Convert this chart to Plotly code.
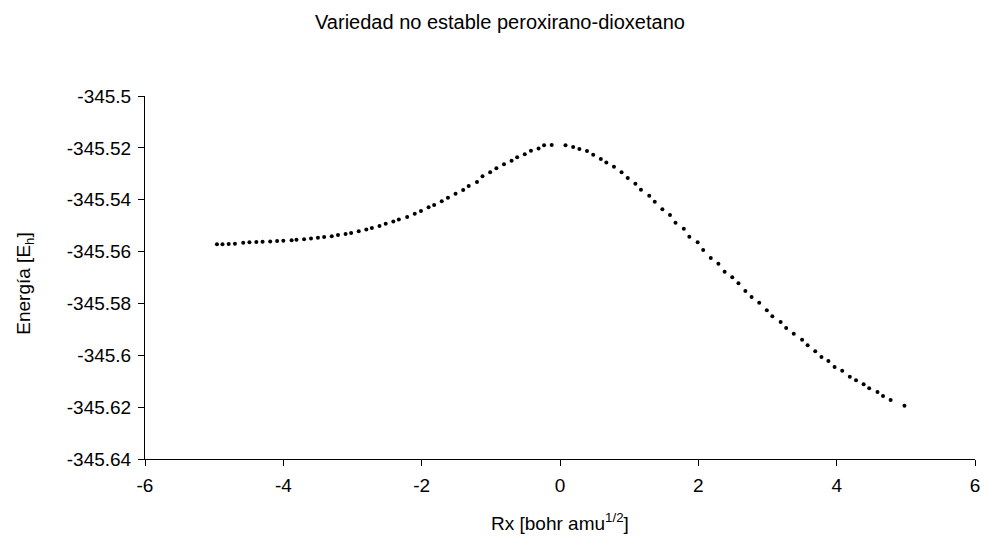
import plotly.graph_objects as go

# Reaction coordinate (bohr amu^1/2)
rx = [-4.96, -4.88, -4.79, -4.70, -4.58, -4.49, -4.39, -4.30, -4.19, -4.09,
      -4.00, -3.88, -3.81, -3.70, -3.60, -3.50, -3.41, -3.30, -3.21, -3.10,
      -3.02, -2.91, -2.80, -2.72, -2.61, -2.52, -2.41, -2.33, -2.21, -2.10,
      -2.01, -1.90, -1.82, -1.71, -1.62, -1.51, -1.40, -1.32, -1.20, -1.12,
      -1.01, -0.92, -0.81, -0.70, -0.62, -0.51, -0.42, -0.31, -0.23, -0.12,
      0.08, 0.19, 0.28, 0.39, 0.48, 0.59, 0.67, 0.78, 0.89, 0.98,
      1.09, 1.17, 1.29, 1.37, 1.48, 1.59, 1.67, 1.79, 1.87, 1.99,
      2.07, 2.18, 2.29, 2.38, 2.49, 2.58, 2.68, 2.77, 2.88, 2.99,
      3.07, 3.19, 3.27, 3.38, 3.50, 3.58, 3.69, 3.78, 3.88, 3.97,
      4.08, 4.19, 4.28, 4.39, 4.47, 4.59, 4.67, 4.78, 4.98]

# Energy (Hartree)
energy = [-345.55720, -345.55718, -345.55712, -345.55700, -345.55660, -345.55645, -345.55635, -345.55625, -345.55610, -345.55595,
          -345.55580, -345.55560, -345.55545, -345.55525, -345.55495, -345.55470, -345.55440, -345.55405, -345.55365, -345.55320,
          -345.55280, -345.55215, -345.55150, -345.55090, -345.55010, -345.54930, -345.54840, -345.54765, -345.54670, -345.54540,
          -345.54435, -345.54293, -345.54200, -345.54060, -345.53922, -345.53768, -345.53625, -345.53471, -345.53317, -345.53097,
          -345.52943, -345.52788, -345.52634, -345.52495, -345.52360, -345.52250, -345.52110, -345.52020, -345.51900, -345.51890,
          -345.51895, -345.51967, -345.52044, -345.52120, -345.52264, -345.52430, -345.52565, -345.52730, -345.52943, -345.53163,
          -345.53386, -345.53614, -345.53845, -345.54077, -345.54370, -345.54590, -345.54887, -345.55118, -345.55426, -345.55642,
          -345.55939, -345.56248, -345.56468, -345.56776, -345.56992, -345.57224, -345.57521, -345.57752, -345.57972, -345.58265,
          -345.58496, -345.58716, -345.58948, -345.59168, -345.59399, -345.59615, -345.59846, -345.60066, -345.60220, -345.60452,
          -345.60595, -345.60826, -345.60965, -345.61119, -345.61273, -345.61416, -345.61570, -345.61725, -345.61944]

x_tickvals = [-6, -4, -2, 0, 2, 4, 6]
x_ticktext = ["-6", "-4", "-2", "0", "2", "4", "6"]
y_tickvals = [-345.5, -345.52, -345.54, -345.56, -345.58, -345.6, -345.62, -345.64]
y_ticktext = ["-345.5", "-345.52", "-345.54", "-345.56", "-345.58", "-345.6", "-345.62", "-345.64"]

title_text = "Variedad no estable peroxirano-dioxetano"
x_title = "Rx [bohr amu<sup>1/2</sup>]"
y_title = "Energía [E<sub>h</sub>]"

FONT = "Liberation Sans, Arial, sans-serif"
W, H = 987, 542
ML, MR, MT, MB = 145, 7, 96, 83

fig = go.Figure()
fig.add_trace(go.Scatter(
    x=rx, y=energy, mode="markers",
    marker=dict(color="black", size=4, line=dict(width=0)),
    showlegend=False, hoverinfo="x+y",
))

axis_common = dict(
    showgrid=False, zeroline=False, showline=True, linecolor="black", linewidth=1,
    ticks="outside", ticklen=6, tickwidth=1, tickcolor="black",
    tickfont=dict(family=FONT, size=19, color="black"),
)

fig.update_layout(
    width=W, height=H,
    margin=dict(l=ML, r=MR, t=MT, b=MB, pad=0),
    paper_bgcolor="white", plot_bgcolor="white",
    font=dict(family=FONT, color="black"),
    xaxis=dict(range=[-6, 6], tickvals=x_tickvals, ticktext=x_ticktext,
               ticklabelstandoff=3, **axis_common),
    yaxis=dict(range=[-345.64, -345.5], tickvals=y_tickvals, ticktext=y_ticktext,
               ticklabelstandoff=3, **axis_common),
    annotations=[
        dict(text=title_text, xref="paper", yref="paper",
             x=(502 - ML) / (W - ML - MR), y=1 + (MT - 22) / (H - MT - MB),
             xanchor="center", yanchor="middle", showarrow=False,
             font=dict(family=FONT, size=20, color="black")),
        dict(text=x_title, xref="paper", yref="paper",
             x=0.5, y=-(522 - (H - MB)) / (H - MT - MB),
             xanchor="center", yanchor="middle", showarrow=False,
             font=dict(family=FONT, size=19, color="black")),
        dict(text=y_title, xref="paper", yref="paper", textangle=-90,
             x=-(ML - 24) / (W - ML - MR), y=1 - (284 - MT) / (H - MT - MB),
             xanchor="center", yanchor="middle", showarrow=False,
             font=dict(family=FONT, size=19, color="black")),
    ],
)

fig.write_html("out.html")
